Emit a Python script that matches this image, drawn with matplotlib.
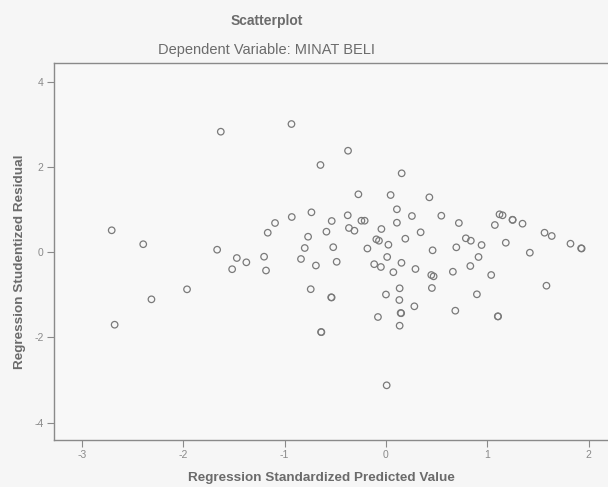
import matplotlib
matplotlib.use("Agg")
import matplotlib.pyplot as plt

# Standardized predicted values (x) and studentized residuals (y)
pred = [-1.629, -0.932, -0.374, -0.646, 0.155, -0.272, 0.046, 0.108, 0.256, -0.735,
        -0.929, -1.094, -1.166, -0.535, -0.377, -0.242, -0.210, -0.365, -0.311, -0.045,
        0.108, -0.587, -0.768, -0.095, -0.069, 0.024, 0.191, 0.342, -0.801, -0.520,
        -0.183, -1.665, -1.471, -1.377, -1.517, -1.202, -1.183, -0.838, -0.691, -0.486,
        -0.116, -0.050, 0.012, 0.153, 0.073, 0.291, 0.428, 0.546, 0.719, 1.120,
        1.150, 1.248, 1.250, 1.347, 1.074, 1.564, 1.635, 1.820, 1.925, 1.930,
        0.788, 0.837, 0.943, 1.182, 0.460, 0.694, 1.419, 0.913, 0.832, 0.660,
        0.447, 0.470, 1.038, -0.742, -0.540, -0.536, 0.135, 0.000, 0.453, 0.897,
        1.583, 0.132, 0.280, 0.145, 0.150, -0.079, 0.684, 1.103, 1.106, 0.135,
        -0.640, -0.637, 0.007, -2.705, -2.394, -1.962, -2.313, -2.676]
resid = [2.832, 3.012, 2.385, 2.050, 1.855, 1.362, 1.345, 1.010, 0.852, 0.939,
         0.829, 0.688, 0.460, 0.735, 0.869, 0.742, 0.742, 0.571, 0.507, 0.547,
         0.695, 0.484, 0.366, 0.305, 0.272, 0.178, 0.319, 0.470, 0.101, 0.120,
         0.089, 0.061, -0.134, -0.235, -0.397, -0.103, -0.427, -0.157, -0.310, -0.223,
         -0.279, -0.345, -0.110, -0.247, -0.467, -0.392, 1.291, 0.859, 0.688, 0.892,
         0.869, 0.765, 0.760, 0.672, 0.641, 0.460, 0.383, 0.202, 0.094, 0.090,
         0.329, 0.272, 0.171, 0.225, 0.047, 0.117, -0.009, -0.110, -0.322, -0.456,
         -0.533, -0.564, -0.533, -0.866, -1.057, -1.060, -0.845, -0.991, -0.838, -0.986,
         -0.784, -1.120, -1.268, -1.425, -1.430, -1.519, -1.371, -1.503, -1.506, -1.723,
         -1.871, -1.875, -3.123, 0.517, 0.190, -0.869, -1.104, -1.700]

x_ticks = [-3, -2, -1, 0, 1, 2]
y_ticks = [-4, -2, 0, 2, 4]

title = "Scatterplot"
subtitle = "Dependent Variable: MINAT BELI"
x_label = "Regression Standardized Predicted Value"
y_label = "Regression Studentized Residual"

text_gray = "#6b6b6b"
plt.rcParams["font.family"] = ["Liberation Sans", "DejaVu Sans"]

W, H = 608, 487
fig = plt.figure(figsize=(W / 100, H / 100), dpi=100, facecolor="#f6f6f6")

left, right_px, top, bottom = 53.5, 608, 63, 440
ax = fig.add_axes([left / W, 1 - bottom / H, (right_px - left) / W, (bottom - top) / H])
ax.set_facecolor("#f8f8f8")

ax.scatter(pred, resid, s=22, facecolors="none", edgecolors="#7a7a7a", linewidths=0.9)

ax.set_xlim(-3.279, 2.19)
ax.set_ylim(-4.407, 4.445)
ax.set_xticks(x_ticks)
ax.set_yticks(y_ticks)
ax.set_xticklabels([str(t) for t in x_ticks])
ax.set_yticklabels([str(t) for t in y_ticks])
ax.tick_params(direction="out", length=5, width=0.8, color="#8a8a8a",
               labelcolor="#8a8a8a", labelsize=7.5, pad=2)

for side in ("left", "bottom", "top"):
    ax.spines[side].set_color("#8a8a8a")
    ax.spines[side].set_linewidth(1.0)
ax.spines["right"].set_visible(False)

fig.text(267 / W, 1 - 21 / H, title, ha="center", va="center",
         fontsize=10, fontweight="bold", color=text_gray)
fig.text(267 / W, 1 - 50 / H, subtitle, ha="center", va="center",
         fontsize=10.5, color=text_gray)
fig.text(321.5 / W, 1 - 478 / H, x_label, ha="center", va="center",
         fontsize=9.7, fontweight="bold", color=text_gray)
fig.text(20 / W, 1 - 262 / H, y_label, ha="center", va="center", rotation=90,
         fontsize=9.7, fontweight="bold", color=text_gray)

fig.savefig("out.png", dpi=100, facecolor=fig.get_facecolor())
